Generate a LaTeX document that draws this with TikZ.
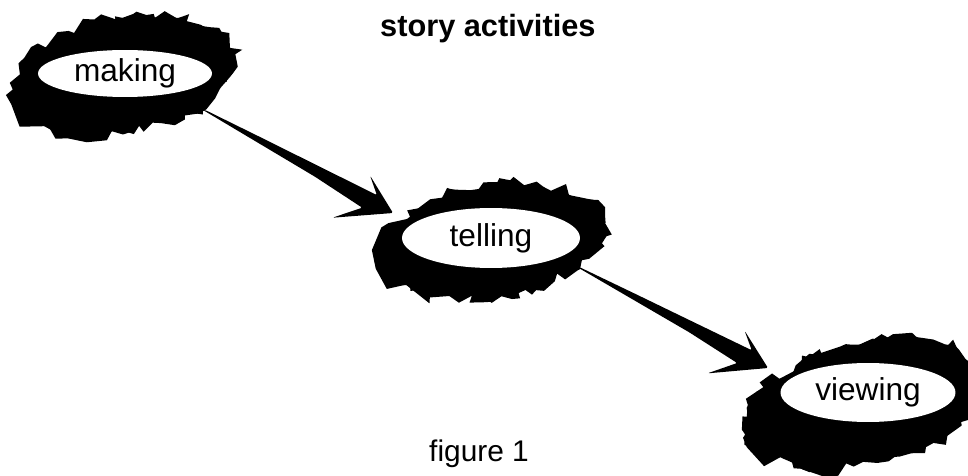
\documentclass[tikz,border=0pt]{standalone}
\usepackage{fontspec}
\setmainfont{Liberation Sans}
\usetikzlibrary{shapes.geometric}
\usetikzlibrary{decorations.pathmorphing}
\usetikzlibrary{calc}

\newcommand{\brusharrow}[2]{%
  \fill[rounded corners=0.8pt] ($(#1)!0.01!(#2)!0.6pt!90:(#2)$)
    -- ($(#1)!0.3!(#2)!2pt!90:(#2)$)
    -- ($(#1)!0.6!(#2)!3.3pt!90:(#2)$)
    -- ($(#1)!0.895!(#2)!4.6pt!90:(#2)$)
    -- ($(#1)!0.824!(#2)!12.5pt!90:(#2)$)
    -- (#2)
    -- ($(#1)!0.764!(#2)!18.8pt!-90:(#2)$)
    -- ($(#1)!0.863!(#2)!5.7pt!-90:(#2)$)
    -- ($(#1)!0.6!(#2)!3pt!-90:(#2)$)
    -- ($(#1)!0.3!(#2)!1.5pt!-90:(#2)$)
    -- (#1) -- cycle;}

\begin{document}
\begin{tikzpicture}[x=0.02cm,y=-0.02cm,every node/.style={font=\fontsize{18}{21}\selectfont},
  hole/.style={ellipse,fill=white,inner sep=0pt},
  blob/.style={fill=black,decorate,decoration={random steps,segment length=5pt,amplitude=3.5pt}},
  splash/.style={fill=black,decorate,decoration={random steps,segment length=9pt,amplitude=6pt}}]
	\pgfmathsetseed{11}
	\clip (0,0) rectangle (968,476);

	\node[hole,minimum width=3.48cm,minimum height=0.94cm] (making) at (125,73.5)  {};
	\node[hole,minimum width=3.56cm,minimum height=1.2cm]  (telling) at (491,238)  {};
	\node[hole,minimum width=3.5cm,minimum height=1.18cm]  (viewing) at (868,392.5) {};

	\fill[blob,rotate around={10:(making)}]  (making)  ellipse [x radius=112,y radius=58];
	\fill[splash,rotate around={12:(making)}] ($(making)+(-4,4)$) ellipse [x radius=108,y radius=56];
	\fill[blob,rotate around={9:(telling)}]  ($(telling)+(1,3)$) ellipse [x radius=114,y radius=56];
	\fill[splash,rotate around={11:(telling)}] ($(telling)+(-3,5)$) ellipse [x radius=110,y radius=54];
	\fill[blob,rotate around={12:(viewing)}] ($(viewing)+(-6,10)$) ellipse [x radius=124,y radius=60];
	\fill[splash,rotate around={14:(viewing)}] ($(viewing)+(-8,12)$) ellipse [x radius=120,y radius=58];

	\node[hole,minimum width=3.48cm,minimum height=0.94cm] at (making)  {making};
	\node[hole,minimum width=3.56cm,minimum height=1.2cm]  at (telling) {telling};
	\node[hole,minimum width=3.5cm,minimum height=1.18cm]  at (viewing) {viewing};

	\node[anchor=base west,font=\bfseries\fontsize{17.5}{21}\selectfont] (title) at (374,37) {story activities};
	\node[anchor=base west,font=\fontsize{17}{20}\selectfont] (caption) at (423,462) {figure 1};

	\coordinate (m1) at (203,110);
	\coordinate (t1) at (393,213);
	\coordinate (t2) at (577,267);
	\coordinate (v1) at (768,368);
	\brusharrow{m1}{t1}
	\brusharrow{t2}{v1}
\end{tikzpicture}
\end{document}
